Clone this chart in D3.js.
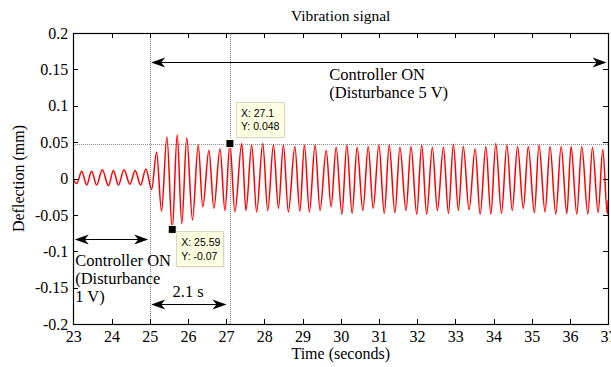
<!DOCTYPE html>
<html>
<head>
<meta charset="utf-8">
<script src="https://cdn.jsdelivr.net/npm/d3@7"></script>
<style>
  html, body { margin: 0; padding: 0; background: #fff; }
  svg { display: block; }
  text { font-family: "Liberation Serif", "Times New Roman", serif; fill: #000; }
  .tip text { font-family: "Liberation Sans", Arial, sans-serif; }
</style>
</head>
<body>
<svg id="chart" width="611" height="367"></svg>
<script>
// ---------------- data ----------------
const signalTime = [
  23.00, 23.09, 23.22, 23.35, 23.48, 23.61, 23.76, 23.92, 24.05, 24.18,
  24.33, 24.48, 24.62, 24.76, 24.90, 25.05, 25.18, 25.31, 25.45, 25.59,
  25.72, 25.84, 25.97, 26.12, 26.27, 26.39, 26.55, 26.68, 26.84, 26.97,
  27.10, 27.23, 27.41, 27.52, 27.67, 27.80, 27.96, 28.09, 28.24, 28.37,
  28.50, 28.63, 28.80, 28.93, 29.05, 29.18, 29.33, 29.46, 29.62, 29.75,
  29.88, 30.03, 30.16, 30.30, 30.43, 30.58, 30.72, 30.85, 31.00, 31.14,
  31.27, 31.42, 31.55, 31.71, 31.84, 31.99, 32.12, 32.25, 32.40, 32.53,
  32.69, 32.82, 32.95, 33.08, 33.21, 33.36, 33.52, 33.65, 33.80, 33.93,
  34.06, 34.21, 34.35, 34.49, 34.63, 34.78, 34.91, 35.07, 35.19, 35.35,
  35.48, 35.63, 35.77, 35.92, 36.03, 36.18, 36.31, 36.47, 36.59, 36.74,
  36.86, 36.98, 37.00
];
const signalDeflection = [
  -0.002, -0.007, 0.010, -0.009, 0.010, -0.009, 0.012, -0.010, 0.011, -0.009,
  0.012, -0.008, 0.011, -0.009, 0.013, -0.015, 0.036, -0.045, 0.057, -0.070,
  0.060, -0.062, 0.056, -0.057, 0.046, -0.039, 0.039, -0.041, 0.041, -0.044,
  0.048, -0.046, 0.048, -0.044, 0.046, -0.046, 0.048, -0.044, 0.046, -0.041,
  0.046, -0.046, 0.044, -0.045, 0.046, -0.046, 0.046, -0.044, 0.039, -0.039,
  0.043, -0.049, 0.046, -0.048, 0.043, -0.044, 0.044, -0.041, 0.046, -0.048,
  0.046, -0.047, 0.043, -0.044, 0.044, -0.049, 0.046, -0.049, 0.043, -0.044,
  0.043, -0.048, 0.047, -0.044, 0.044, -0.043, 0.041, -0.049, 0.044, -0.049,
  0.048, -0.048, 0.046, -0.044, 0.044, -0.041, 0.044, -0.047, 0.046, -0.046,
  0.044, -0.049, 0.044, -0.048, 0.044, -0.049, 0.044, -0.049, 0.043, -0.047,
  0.040, -0.049, -0.030
];
const xTickValues = [23, 24, 25, 26, 27, 28, 29, 30, 31, 32, 33, 34, 35, 36, 37];
const xTickLabels = ["23", "24", "25", "26", "27", "28", "29", "30", "31", "32", "33", "34", "35", "36", "37"];
const yTickValues = [0.2, 0.15, 0.1, 0.05, 0, -0.05, -0.1, -0.15, -0.2];
const yTickLabels = ["0.2", "0.15", "0.1", "0.05", "0", "-0.05", "-0.1", "-0.15", "-0.2"];
const titleText = "Vibration signal";
const xAxisTitle = "Time (seconds)";
const yAxisTitle = "Deflection (mm)";

// reference lines (time, deflection)
const refTimes = [25, 27.1];
const refDeflections = [0.048];

// data tips
const tipX = [27.1, 25.59];
const tipY = [0.048, -0.07];
const tipLines = [["X: 27.1", "Y: 0.048"], ["X: 25.59", "Y: -0.07"]];

// double arrows: start time, end time, deflection level
const arrowStart = [23, 25, 25];
const arrowEnd = [25, 37, 27.05];
const arrowLevel = [-0.083, 0.160, -0.1725];

// text annotations
const noteLines = [
  ["Controller ON", "(Disturbance", "1 V)"],
  ["Controller ON", "(Disturbance 5 V)"],
  ["2.1 s"]
];
const noteTime = [23.05, 29.7, 25.6];
const noteDeflection = [-0.120, 0.135, -0.163];

// ---------------- layout ----------------
const W = 611, H = 367;
const plot = { left: 73.3, right: 608.1, top: 33, bottom: 324 };

const svg = d3.select("#chart");
const x = d3.scaleLinear().domain([23, 37]).range([plot.left, plot.right]);
const y = d3.scaleLinear().domain([-0.2, 0.2]).range([plot.bottom, plot.top]);

svg.append("rect").attr("x", 0).attr("y", 0).attr("width", W).attr("height", H).attr("fill", "#fff");

svg.append("clipPath").attr("id", "clip").append("rect")
  .attr("x", plot.left).attr("y", plot.top)
  .attr("width", plot.right - plot.left).attr("height", plot.bottom - plot.top);

// reference lines
const refG = svg.append("g").attr("stroke", "#8a8a8a").attr("stroke-width", 1)
  .attr("stroke-dasharray", "1,1").attr("shape-rendering", "crispEdges");
refTimes.forEach(t => {
  refG.append("line").attr("x1", Math.round(x(t)) + 0.5).attr("x2", Math.round(x(t)) + 0.5)
    .attr("y1", plot.top).attr("y2", plot.bottom);
});
refDeflections.forEach(v => {
  refG.append("line").attr("x1", plot.left).attr("x2", plot.right)
    .attr("y1", Math.round(y(v)) + 0.5).attr("y2", Math.round(y(v)) + 0.5);
});

// signal
const line = d3.line()
  .x((d, i) => x(signalTime[i]))
  .y((d, i) => y(signalDeflection[i]))
  .curve(d3.curveMonotoneX);
svg.append("path")
  .attr("clip-path", "url(#clip)")
  .attr("d", line(signalTime))
  .attr("fill", "none")
  .attr("stroke", "#ff0000")
  .attr("stroke-width", 1.5)
  .attr("stroke-linejoin", "round");

// axes (box with inward ticks)
const fontSize = 16;
const xAxisB = d3.axisBottom(x).tickValues(xTickValues).tickFormat((d, i) => xTickLabels[i])
  .tickSizeInner(-5).tickSizeOuter(0).tickPadding(10);
const xAxisT = d3.axisTop(x).tickValues(xTickValues).tickFormat("").tickSizeInner(-5).tickSizeOuter(0);
const yAxisL = d3.axisLeft(y).tickValues(yTickValues).tickFormat((d, i) => yTickLabels[i])
  .tickSizeInner(-5).tickSizeOuter(0).tickPadding(10);
const yAxisR = d3.axisRight(y).tickValues(yTickValues).tickFormat("").tickSizeInner(-5).tickSizeOuter(0);

function styleAxis(g) {
  g.select(".domain").remove();
  g.selectAll(".tick line").attr("stroke", "#000").attr("shape-rendering", "crispEdges");
  g.selectAll(".tick text").attr("font-family", "Liberation Serif, serif").attr("font-size", fontSize).attr("fill", "#000");
}
svg.append("g").attr("transform", `translate(0,${plot.bottom})`).call(xAxisB).call(styleAxis)
  .selectAll(".tick text").attr("dy", "0.71em").attr("y", 7);
svg.append("g").attr("transform", `translate(0,${plot.top})`).call(xAxisT).call(styleAxis);
svg.append("g").attr("transform", `translate(${plot.left},0)`).call(yAxisL).call(styleAxis)
  .selectAll(".tick text").attr("x", -5);
svg.append("g").attr("transform", `translate(${plot.right},0)`).call(yAxisR).call(styleAxis);

svg.append("rect")
  .attr("x", Math.round(plot.left) + 0.5).attr("y", plot.top + 0.5)
  .attr("width", Math.round(plot.right) - Math.round(plot.left)).attr("height", plot.bottom - plot.top)
  .attr("fill", "none").attr("stroke", "#000").attr("stroke-width", 1.2);

// titles
svg.append("text").attr("x", (plot.left + plot.right) / 2).attr("y", 21)
  .attr("text-anchor", "middle").attr("font-size", 15.5).text(titleText);
svg.append("text").attr("x", (plot.left + plot.right) / 2).attr("y", 359)
  .attr("text-anchor", "middle").attr("font-size", 16).text(xAxisTitle);
svg.append("text").attr("transform", `translate(24,${(plot.top + plot.bottom) / 2}) rotate(-90)`)
  .attr("text-anchor", "middle").attr("font-size", 16).text(yAxisTitle);

// double arrows
function head(px, py, dir) {
  const L = 14, Hh = 5, N = 10;
  return `M${px},${py} L${px - dir * L},${py - Hh} L${px - dir * N},${py} L${px - dir * L},${py + Hh} Z`;
}
arrowStart.forEach((s, i) => {
  const x1 = x(s) + 1.5, x2 = x(arrowEnd[i]) - 1.5, yy = Math.round(y(arrowLevel[i])) + 0.5;
  svg.append("line").attr("x1", x1 + 8).attr("x2", x2 - 8).attr("y1", yy).attr("y2", yy)
    .attr("stroke", "#000").attr("stroke-width", 1);
  svg.append("path").attr("d", head(x1, yy, -1)).attr("fill", "#000");
  svg.append("path").attr("d", head(x2, yy, 1)).attr("fill", "#000");
});

// notes
noteLines.forEach((lines, i) => {
  const t = svg.append("text").attr("font-size", 16.5)
    .attr("x", x(noteTime[i])).attr("y", y(noteDeflection[i]));
  lines.forEach((s, j) => {
    t.append("tspan").attr("x", x(noteTime[i])).attr("dy", j === 0 ? 0 : 18).text(s);
  });
});

// data tips
const tipOffsets = [[6, -42], [4, 2]];
tipX.forEach((tx, i) => {
  const px = x(tx), py = y(tipY[i]);
  const g = svg.append("g").attr("class", "tip");
  const bx = px + tipOffsets[i][0], by = py + tipOffsets[i][1];
  const bw = i === 0 ? 48 : 47, bh = 35;
  g.append("rect").attr("x", bx + 1.5).attr("y", by + 1.5).attr("width", bw).attr("height", bh)
    .attr("fill", "#e8e8e0").attr("opacity", 0.6);
  g.append("rect").attr("x", Math.round(bx) + 0.5).attr("y", Math.round(by) + 0.5).attr("width", bw).attr("height", bh)
    .attr("fill", "#ffffe1").attr("stroke", "#d9d6bf").attr("stroke-width", 1);
  tipLines[i].forEach((s, j) => {
    g.append("text").attr("x", bx + 5).attr("y", by + 15 + j * 13.5)
      .attr("font-size", 10.5).attr("font-family", "Liberation Sans, Arial, sans-serif").text(s);
  });
  g.append("rect").attr("x", px - 4).attr("y", py - 4).attr("width", 8).attr("height", 8)
    .attr("fill", "#000").attr("stroke", "#ffffe1").attr("stroke-width", 1);
});
</script>
</body>
</html>
